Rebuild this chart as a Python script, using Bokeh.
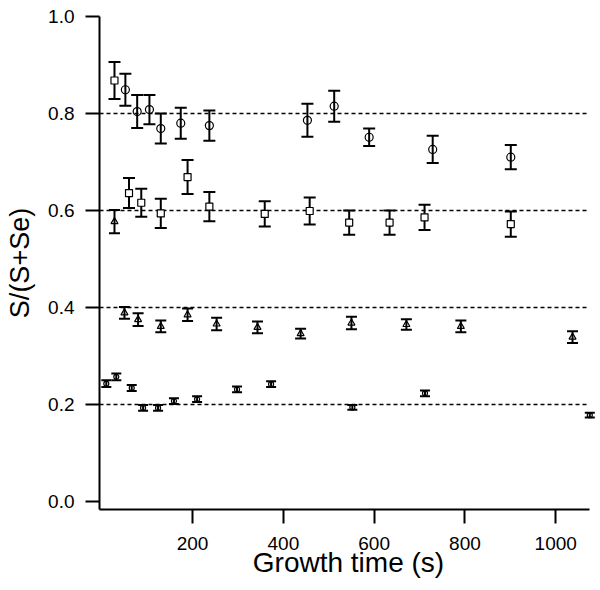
from bokeh.plotting import figure
from bokeh.models import (ColumnDataSource, Whisker, TeeHead, Range1d,
                          FixedTicker, PrintfTickFormatter)
from bokeh.embed import file_html
from bokeh.resources import INLINE

# ---- data ----
t_circ = [52, 78, 105, 130, 174, 237, 453, 512, 589, 729, 901]
v_circ = [0.849, 0.804, 0.808, 0.769, 0.780, 0.775, 0.786, 0.815, 0.751, 0.726, 0.710]
e_circ = [0.033, 0.034, 0.030, 0.031, 0.032, 0.031, 0.034, 0.032, 0.018, 0.028, 0.025]

t_sq = [28, 60, 87, 130, 189, 237, 359, 458, 545, 634, 711, 901]
v_sq = [0.868, 0.636, 0.616, 0.594, 0.669, 0.608, 0.593, 0.599, 0.575, 0.575, 0.586, 0.572]
e_sq = [0.038, 0.031, 0.029, 0.030, 0.035, 0.030, 0.026, 0.028, 0.025, 0.025, 0.026, 0.026]

t_tri = [28, 50, 80, 130, 189, 253, 343, 438, 550, 671, 791, 1037]
v_tri = [0.577, 0.389, 0.375, 0.361, 0.385, 0.366, 0.359, 0.346, 0.368, 0.365, 0.361, 0.339]
e_tri = [0.024, 0.012, 0.013, 0.012, 0.013, 0.013, 0.012, 0.010, 0.013, 0.011, 0.012, 0.012]

t_small = [10, 32, 66, 91, 124, 159, 210, 298, 373, 552, 712, 1075]
v_small = [0.243, 0.257, 0.234, 0.193, 0.193, 0.207, 0.211, 0.231, 0.242, 0.194, 0.223, 0.178]
e_small = [0.007, 0.007, 0.006, 0.006, 0.006, 0.006, 0.006, 0.006, 0.006, 0.005, 0.006, 0.005]

ref_levels = [0.2, 0.4, 0.6, 0.8]
x_ticks = [200, 400, 600, 800, 1000]
y_ticks = [0.0, 0.2, 0.4, 0.6, 0.8, 1.0]
x_axis_span = (-5, 1074)
y_axis_span = (-0.0165, 1.0)

FONT = "Liberation Sans"

p = figure(width=600, height=590, output_backend="svg", toolbar_location=None,
           x_range=Range1d(-5, 1092), y_range=Range1d(-0.0165, 1.0),
           min_border_left=99, min_border_right=3, min_border_top=16,
           min_border_bottom=81)
p.outline_line_color = None
p.grid.visible = False
p.background_fill_color = "white"

# reference dotted lines
p.segment(x0=[x_axis_span[0]] * len(ref_levels), x1=[x_axis_span[1]] * len(ref_levels),
          y0=ref_levels, y1=ref_levels, line_color="black", line_width=1.5,
          line_dash="4 3")


def add_series(t, v, e, marker, size, cap, fill):
    hi = [a + b for a, b in zip(v, e)]
    lo = [a - b for a, b in zip(v, e)]
    src = ColumnDataSource(dict(t=t, v=v, hi=hi, lo=lo))
    w = Whisker(source=src, base="t", upper="hi", lower="lo", dimension="height",
                line_width=2, line_color="black",
                upper_head=TeeHead(size=cap, line_width=2, line_color="black"),
                lower_head=TeeHead(size=cap, line_width=2, line_color="black"))
    p.add_layout(w)
    p.scatter("t", "v", source=src, marker=marker, size=size,
              line_color="black", line_width=1.2, fill_color=fill)


add_series(t_circ, v_circ, e_circ, "circle", 8, 12, None)
add_series(t_sq, v_sq, e_sq, "square", 7, 12, "white")
add_series(t_tri, v_tri, e_tri, "triangle", 7, 11, None)
add_series(t_small, v_small, e_small, "circle", 5, 10, None)

# axes
xa = p.xaxis[0]
xa.ticker = FixedTicker(ticks=x_ticks)
xa.bounds = x_axis_span
xa.axis_label = "Growth time (s)"
xa.axis_label_text_font = FONT
xa.axis_label_text_font_size = "28px"
xa.axis_label_text_font_style = "normal"
xa.axis_label_text_color = "black"
xa.axis_label_standoff = -6
xa.major_label_text_font = FONT
xa.major_label_text_font_size = "19px"
xa.major_label_text_color = "black"
xa.major_label_standoff = 13
xa.major_tick_out = 14
xa.major_tick_in = 0
xa.minor_tick_out = 0
xa.minor_tick_in = 0
xa.axis_line_width = 2
xa.axis_line_color = "black"
xa.major_tick_line_width = 2
xa.major_tick_line_color = "black"

ya = p.yaxis[0]
ya.ticker = FixedTicker(ticks=y_ticks)
ya.formatter = PrintfTickFormatter(format="%.1f")
ya.bounds = y_axis_span
ya.axis_label = "S/(S+Se)"
ya.axis_label_text_font = FONT
ya.axis_label_text_font_size = "27px"
ya.axis_label_text_font_style = "normal"
ya.axis_label_text_color = "black"
ya.axis_label_standoff = 10
ya.major_label_text_font = FONT
ya.major_label_text_font_size = "19px"
ya.major_label_text_color = "black"
ya.major_label_standoff = 11
ya.major_tick_out = 14
ya.major_tick_in = 0
ya.minor_tick_out = 0
ya.minor_tick_in = 0
ya.axis_line_width = 2
ya.axis_line_color = "black"
ya.major_tick_line_width = 2
ya.major_tick_line_color = "black"

open("out.html", "w").write(file_html(p, INLINE))
